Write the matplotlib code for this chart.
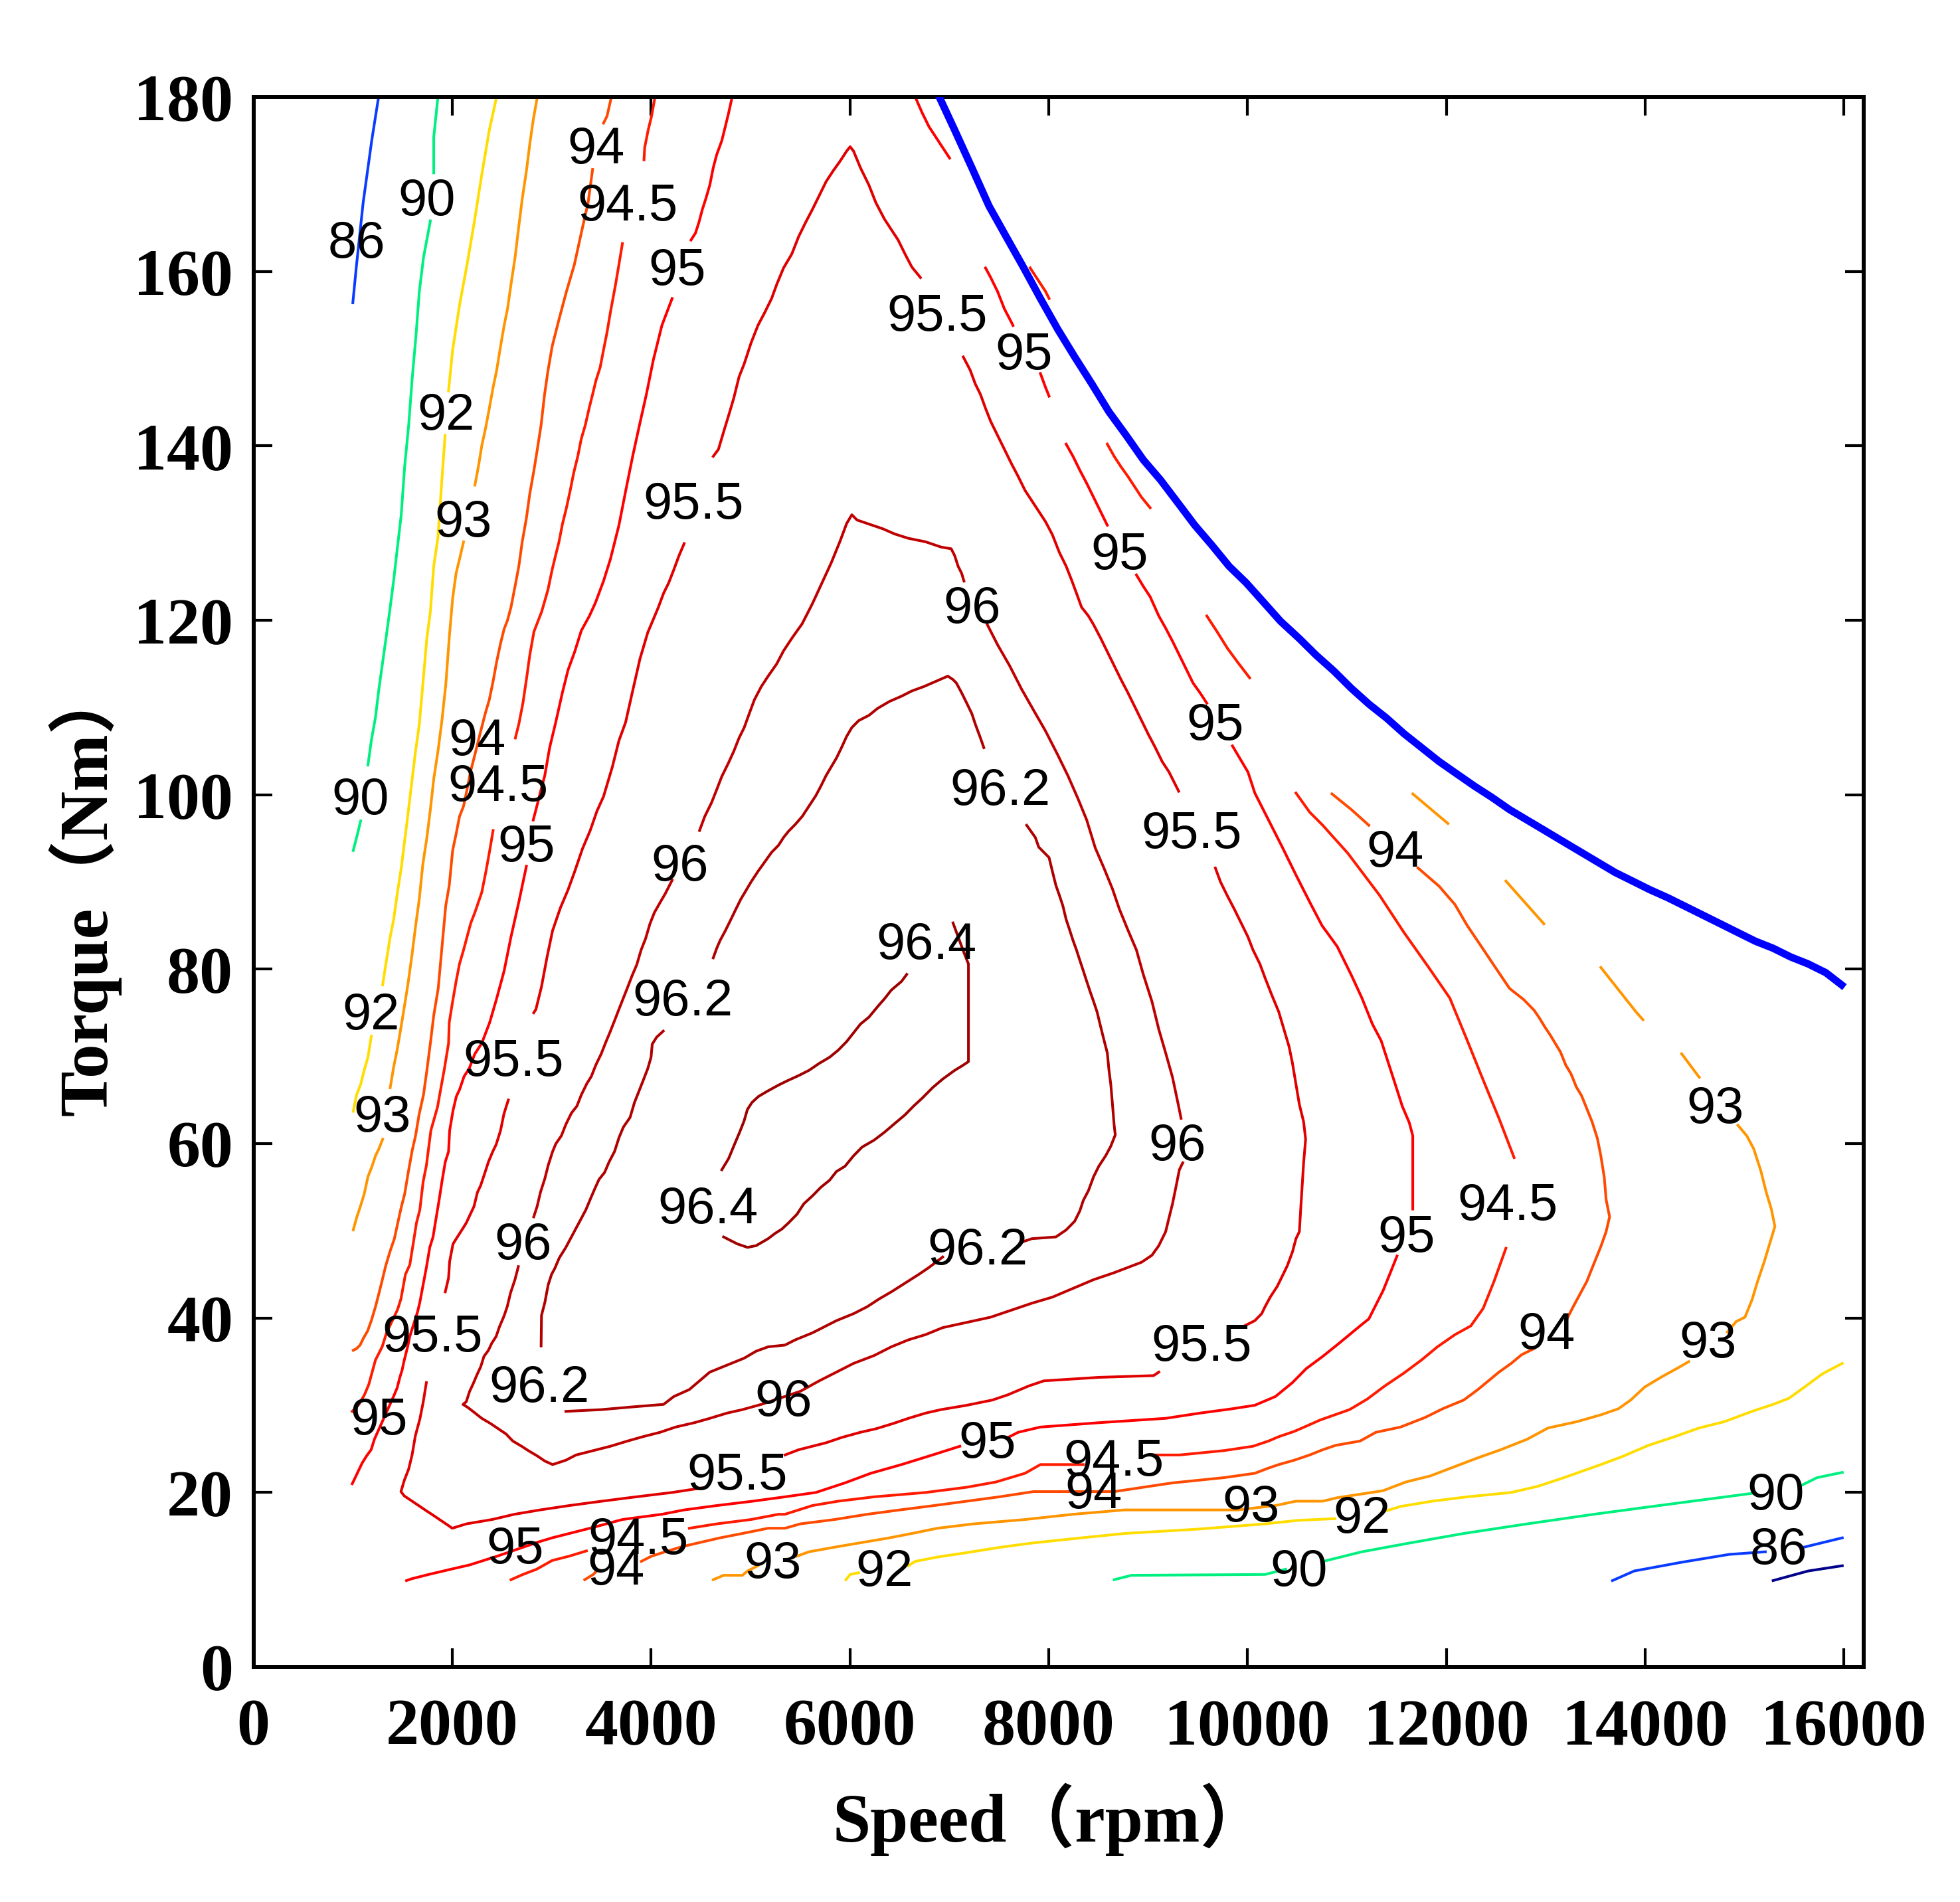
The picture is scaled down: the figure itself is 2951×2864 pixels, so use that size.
import matplotlib
matplotlib.use("Agg")
import matplotlib.pyplot as plt
import matplotlib.transforms as mtransforms

# ---------------------------------------------------------------------------
# Efficiency map of the motor: contour lines.
# Every line is a list of polylines (speed rpm, torque Nm); gaps between the
# polylines are where the original leaves room for a label.
# ---------------------------------------------------------------------------
eff_86 = [
    [(1000, 156.4), (1035, 160.5), (1104, 167.9), (1190, 175.0), (1259, 180.0)],
    [(13672, 9.9), (13891, 11.0), (14368, 12.0), (14846, 12.9), (15210, 13.2)],
    [(15588, 13.7), (15984, 14.8)],
]
eff_low = [
    [(15288, 9.9), (15641, 11.0), (15984, 11.6)],
]
eff_90 = [
    [(1856, 180.0), (1814, 175.4), (1814, 171.3)],
    [(1780, 165.8), (1711, 161.6), (1669, 157.7), (1635, 152.6), (1597, 147.7), (1562, 142.4),
     (1521, 137.6), (1487, 132.1), (1445, 128.0), (1411, 124.6), (1376, 121.5), (1338, 118.3),
     (1300, 115.2), (1262, 112.1), (1228, 108.9), (1186, 106.2), (1152, 103.4)],
    [(1079, 97.0), (1038, 95.1), (1004, 93.6)],
    [(8659, 10.0), (8832, 10.5), (10177, 10.6), (10384, 11.2)],
    [(10762, 12.1), (11151, 13.2), (11628, 14.2), (12176, 15.3), (12813, 16.4), (13484, 17.5),
     (14139, 18.5), (14810, 19.5), (15076, 19.9)],
    [(15553, 20.7), (15730, 21.7), (15984, 22.3)],
]
eff_92 = [
    [(2446, 180.0), (2373, 176.2), (2297, 171.1), (2221, 165.6), (2149, 160.8), (2073, 156.1),
     (2004, 151.0), (1963, 146.3)],
    [(1928, 141.2), (1894, 135.8), (1856, 129.5), (1814, 126.2), (1780, 121.0), (1745, 118.0),
     (1704, 112.6), (1669, 108.1), (1631, 105.0), (1597, 101.8), (1556, 97.9), (1521, 94.7),
     (1487, 91.6), (1445, 88.5), (1411, 85.7), (1376, 83.7), (1338, 81.0), (1300, 78.2)],
    [(1186, 72.3), (1152, 69.9), (1114, 68.4), (1079, 66.8), (1038, 65.6), (1004, 63.7)],
    [(5961, 10.0), (6003, 10.6), (6089, 10.8)],
    [(6589, 11.6), (6658, 12.1), (6882, 12.6), (7176, 13.1), (7503, 13.7), (7831, 14.2),
     (8245, 14.7), (8763, 15.3), (9504, 15.8), (10177, 16.4), (10505, 16.8), (10880, 17.0)],
    [(11398, 17.9), (11540, 18.4), (11858, 19.0), (12211, 19.5), (12653, 20.0), (12919, 20.7),
     (13184, 21.7), (13555, 23.2), (13767, 24.1), (14033, 25.4), (14298, 26.4), (14545, 27.4),
     (14793, 28.1), (15076, 29.3), (15288, 30.1), (15447, 30.8), (15606, 32.1), (15783, 33.6),
     (15984, 34.8)],
]
eff_93 = [
    [(2856, 180.0), (2815, 177.4), (2780, 174.6), (2746, 171.5), (2704, 168.3), (2670, 165.2),
     (2632, 161.6), (2591, 158.5), (2556, 155.7), (2522, 153.8), (2480, 151.0), (2446, 148.6),
     (2411, 146.7), (2373, 144.3), (2335, 142.0), (2297, 140.0), (2263, 137.6), (2228, 135.5)],
    [(2114, 129.0), (2073, 127.0), (2039, 125.4), (2004, 122.5), (1970, 118.0), (1935, 112.6),
     (1894, 108.3), (1859, 105.2), (1814, 101.8), (1780, 98.3), (1745, 95.1), (1704, 92.0),
     (1669, 88.1), (1631, 84.9), (1597, 81.8), (1556, 78.4), (1521, 75.9), (1487, 73.5),
     (1445, 70.7), (1411, 68.8), (1376, 66.4)],
    [(1300, 60.5), (1262, 59.4), (1228, 58.6), (1193, 57.4), (1152, 56.2), (1114, 54.2),
     (1073, 52.7), (1038, 51.5), (1004, 50.1)],
    [(4626, 10.0), (4730, 10.5), (4919, 10.5), (4971, 11.0), (5075, 11.6)],
    [(5468, 12.7), (5589, 13.2), (5882, 13.8), (6141, 14.3), (6399, 14.8), (6624, 15.3),
     (6882, 15.9), (7245, 16.4), (7762, 16.9), (8245, 17.5), (8763, 18.0), (9901, 18.0),
     (10281, 18.5), (10487, 19.0), (10757, 19.0), (10903, 19.4), (11363, 20.2), (11593, 21.2),
     (11840, 21.9), (12070, 22.9), (12300, 23.9), (12547, 24.9), (12813, 26.1), (13025, 27.4),
     (13308, 28.1), (13555, 28.9), (13732, 29.6), (13856, 30.6), (13997, 32.1), (14174, 33.3),
     (14333, 34.3), (14439, 35.0)],
    [(14828, 38.4), (14917, 39.6), (15005, 40.1), (15076, 42.1), (15129, 44.1), (15200, 46.5),
     (15253, 48.5), (15306, 50.5), (15270, 52.5), (15217, 54.5), (15164, 56.9), (15093, 59.4),
     (15023, 60.9), (14934, 62.1)],
    [(14545, 67.6), (14368, 70.3)],
    [(13979, 74.2), (13909, 75.1), (13555, 80.2)],
    [(12982, 85.2), (12600, 90.1)],
    [(12017, 96.7), (11663, 100.1)],
]
eff_94 = [
    [(3601, 180.0), (3557, 177.8), (3522, 177.0)],
    [(3412, 171.7), (3367, 167.9), (3298, 164.4), (3229, 160.8), (3149, 157.7), (3074, 154.5),
     (3005, 151.4), (2963, 148.6), (2929, 145.9), (2894, 142.4), (2856, 139.6), (2822, 137.2),
     (2780, 134.5), (2746, 131.7), (2704, 129.0), (2670, 126.2), (2632, 123.9), (2591, 121.5),
     (2556, 120.0), (2522, 119.0), (2487, 117.4), (2446, 115.2), (2411, 113.0), (2373, 110.9),
     (2332, 109.3), (2280, 107.0), (2228, 104.6), (2183, 102.6), (2149, 100.6), (2114, 98.7),
     (2073, 97.5), (2039, 95.5), (2004, 93.6), (1970, 89.6), (1935, 87.3), (1894, 82.2),
     (1859, 77.8), (1814, 74.7), (1780, 71.5), (1745, 68.4), (1711, 65.6), (1666, 63.3),
     (1631, 60.9), (1597, 59.2), (1556, 56.6), (1521, 54.2), (1487, 52.7), (1452, 50.9),
     (1418, 49.1), (1373, 47.6), (1331, 46.0), (1297, 44.4), (1262, 42.8), (1228, 41.3),
     (1186, 39.7), (1148, 38.5), (1107, 37.7), (1073, 36.9), (1038, 36.5), (1004, 36.3)],
    [(3333, 10.0), (3419, 10.6), (3453, 11.0)],
    [(3902, 12.1), (4005, 12.7), (4143, 13.2), (4316, 13.8), (4505, 14.3), (4695, 14.8),
     (4919, 15.3), (5178, 15.9), (5347, 15.9), (5502, 16.4), (5847, 16.9), (6175, 17.5),
     (6503, 18.0), (6848, 18.5), (7176, 19.0), (7503, 19.5), (7848, 20.1), (8659, 20.1),
     (8952, 20.6), (9246, 21.1), (9763, 21.7), (10074, 22.2), (10212, 22.8), (10315, 23.2),
     (10470, 23.7), (10626, 24.3), (10757, 24.9), (10886, 25.4), (11133, 25.9), (11292, 26.9),
     (11540, 27.5), (11787, 28.6), (11964, 29.6), (12176, 30.6), (12318, 31.8), (12424, 32.8),
     (12530, 33.8), (12653, 34.8), (12759, 35.8), (12883, 36.5)],
    [(13219, 40.0), (13272, 41.2), (13343, 42.7), (13414, 44.2), (13484, 46.2), (13555, 48.2),
     (13608, 49.9), (13643, 51.6), (13608, 53.6), (13590, 56.1), (13555, 58.6), (13520, 60.6),
     (13467, 62.5), (13414, 64.0), (13361, 65.5), (13308, 66.5), (13255, 68.0), (13202, 69.0),
     (13149, 70.5), (13096, 71.5), (13043, 72.5), (12990, 73.4), (12937, 74.4), (12883, 75.3),
     (12780, 76.5), (12636, 77.8), (12494, 80.2), (12353, 82.6), (12211, 85.0), (12088, 87.4),
     (11929, 89.5), (11716, 91.6)],
    [(11221, 96.5), (11045, 98.3), (10850, 100.1)],
]
eff_945 = [
    [(4040, 180.0), (4005, 177.8), (3971, 176.2), (3936, 174.2), (3929, 172.8)],
    [(3712, 163.2), (3677, 160.8), (3643, 158.5), (3591, 155.3), (3557, 153.0), (3522, 151.0),
     (3488, 149.0), (3446, 147.5), (3412, 145.9), (3377, 144.3), (3339, 142.4), (3298, 140.8),
     (3263, 138.8), (3222, 136.9), (3187, 134.9), (3149, 132.9), (3108, 131.0), (3074, 129.0),
     (3039, 127.4), (3005, 125.8), (2963, 123.5), (2900, 121.0), (2822, 118.7), (2780, 116.0),
     (2746, 113.2), (2711, 110.5), (2670, 108.1), (2635, 106.5)],
    [(2411, 95.9), (2377, 93.6), (2339, 91.2), (2297, 88.8), (2228, 86.5), (2187, 85.3),
     (2149, 83.7), (2114, 82.2), (2073, 80.6), (2039, 78.6), (2004, 76.3), (1970, 73.9),
     (1963, 71.5), (1920, 68.5), (1880, 66.0), (1852, 64.2), (1785, 61.5), (1740, 57.5),
     (1707, 55.6), (1674, 52.4), (1640, 50.9), (1607, 48.5), (1573, 46.1), (1529, 45.0),
     (1484, 42.2), (1451, 41.0), (1339, 38.3), (1295, 36.7), (1228, 35.2), (1161, 32.4),
     (1117, 31.2), (1061, 30.1), (994, 29.3)],
    [(2591, 10.0), (2711, 10.6), (2849, 11.2), (3005, 12.2), (3177, 12.7), (3350, 13.3)],
    [(4385, 15.9), (4661, 16.4), (5006, 16.9), (5282, 17.5), (5347, 17.5), (5623, 18.5),
     (5882, 19.0), (6244, 19.5), (6762, 20.0), (7176, 20.6), (7469, 21.2), (7762, 22.2),
     (7917, 23.2), (8349, 23.2)],
    [(9056, 24.3), (9315, 24.3), (9763, 24.8), (10056, 25.3), (10212, 25.9), (10315, 26.4),
     (10470, 27.0), (10591, 27.6), (10729, 28.3), (11027, 29.5), (11204, 30.7), (11380, 32.2),
     (11575, 33.7), (11752, 35.2), (11911, 36.7), (12088, 38.1), (12247, 39.1), (12371, 41.1),
     (12477, 44.1), (12600, 48.0)],
    [(12682, 58.4), (12530, 62.9), (12371, 67.3), (12212, 71.8), (12035, 76.7), (11823, 80.2),
     (11575, 84.2), (11327, 88.5), (11009, 93.3), (10757, 96.5), (10626, 98.0), (10557, 99.1),
     (10488, 100.2)],
    [(10022, 113.4), (9901, 115.2), (9798, 116.8), (9694, 118.7), (9591, 120.5)],
    [(9021, 132.9), (8935, 134.1), (8866, 135.3), (8797, 136.5), (8728, 137.6), (8659, 138.8),
     (8590, 140.2)],
    [(8004, 156.9), (7969, 157.7), (7900, 158.9), (7814, 160.4)],
]
eff_95 = [
    [(4816, 180.0), (4781, 178.2), (4747, 176.6), (4712, 175.0), (4661, 173.4), (4626, 171.9),
     (4591, 169.9), (4550, 168.3), (4516, 167.1), (4481, 165.6), (4447, 164.4), (4402, 163.6)],
    [(4212, 156.9), (4109, 153.8), (4022, 149.8), (3953, 145.9), (3884, 142.4), (3815, 138.8),
     (3746, 134.9), (3677, 130.9), (3591, 127.0), (3522, 124.5), (3440, 122.0), (3380, 120.5),
     (3298, 118.8), (3232, 116.4), (3165, 114.3), (3108, 111.7), (3039, 108.2), (2980, 105.4),
     (2931, 102.2), (2894, 100.6), (2856, 98.9), (2815, 97.1)],
    [(2746, 91.8), (2670, 87.7), (2591, 83.7), (2522, 79.8), (2446, 76.6), (2377, 73.9),
     (2297, 71.5), (2228, 70.3), (2170, 68.6), (2119, 67.7), (2074, 66.2), (2041, 65.4),
     (2008, 63.8), (1974, 61.5), (1963, 59.1), (1930, 57.9), (1896, 55.6), (1869, 53.6),
     (1834, 51.2), (1807, 49.3), (1774, 48.1), (1740, 45.8), (1707, 43.8), (1674, 41.8),
     (1651, 40.7), (1573, 37.9), (1551, 36.7), (1518, 35.2), (1495, 34.0), (1473, 33.2),
     (1446, 32.0), (1417, 31.2), (1217, 26.1), (1184, 24.9), (1139, 24.2), (1095, 23.4),
     (1061, 22.6), (1028, 21.8), (994, 21.0)],
    [(1540, 9.9), (1590, 10.1), (1763, 10.6), (1987, 11.2), (2177, 11.7), (2315, 12.2),
     (2453, 12.7), (2860, 14.3), (3005, 14.8), (3212, 15.4), (3419, 16.0), (3712, 16.9),
     (4109, 17.5), (4333, 18.0), (4661, 18.5), (5023, 19.0), (5347, 19.5), (5658, 20.0),
     (5951, 21.1), (6210, 22.2), (6520, 23.2), (6831, 24.3), (7107, 25.3)],
    [(7590, 26.3), (7693, 26.9), (7917, 27.5), (8504, 28.0), (9177, 28.5), (9522, 29.1),
     (9849, 29.6), (10074, 30.0), (10281, 31.0), (10453, 32.6), (10591, 34.2), (10757, 35.6),
     (10921, 37.1), (11027, 38.1), (11133, 39.1), (11221, 39.9), (11274, 41.1), (11363, 43.1),
     (11434, 45.1), (11504, 47.1)],
    [(11663, 52.5), (11663, 60.9), (11628, 62.4), (11557, 64.3), (11487, 66.8), (11416, 69.3),
     (11345, 71.8), (11257, 73.7), (11151, 76.7), (11050, 79.2), (10903, 82.6), (10750, 85.0),
     (10626, 87.7), (10488, 90.8), (10350, 94.0), (10212, 97.1), (10074, 100.2), (10005, 102.6),
     (9849, 105.6)],
    [(9591, 110.5), (9522, 111.7), (9453, 112.8), (9384, 114.4), (9315, 116.0), (9246, 117.6),
     (9177, 119.1), (9108, 120.5), (9021, 122.7), (8952, 123.9), (8883, 125.2)],
    [(8590, 130.9), (8521, 132.5), (8452, 134.1), (8383, 135.7), (8314, 137.2), (8245, 138.8),
     (8176, 140.2)],
    [(8004, 145.7), (7969, 146.7), (7917, 148.3)],
    [(7641, 153.8), (7624, 154.2), (7555, 155.7), (7486, 157.7), (7417, 159.3), (7365, 160.4)],
    [(7003, 173.0), (6934, 174.2), (6865, 175.4), (6796, 176.6), (6727, 178.2), (6658, 180.0)],
]
eff_955 = [
    [(6710, 159.3), (6624, 160.5), (6555, 162.0), (6486, 163.6), (6417, 164.8), (6348, 166.0),
     (6261, 167.9), (6192, 169.9), (6106, 171.9), (6037, 173.8), (6003, 174.3), (5968, 173.8),
     (5899, 172.6), (5830, 171.5), (5761, 170.3), (5692, 168.7), (5623, 167.1), (5554, 165.6),
     (5485, 164.0), (5416, 162.0), (5333, 160.4), (5264, 158.5), (5213, 156.9), (5144, 155.3),
     (5075, 153.8), (5006, 151.8), (4937, 149.4), (4885, 147.9), (4833, 145.5), (4781, 143.5),
     (4730, 141.6), (4678, 139.6), (4626, 138.8)],
    [(4333, 128.8), (4281, 127.4), (4229, 125.8), (4178, 124.3), (4126, 123.1), (4074, 121.5),
     (4030, 120.3), (3967, 118.6), (3889, 115.6), (3811, 111.7), (3744, 108.3), (3677, 106.2),
     (3611, 103.2), (3522, 99.8), (3455, 98.1), (3388, 95.9), (3310, 93.8), (3232, 91.2),
     (3165, 89.1), (3087, 87.0), (3009, 84.4), (2954, 81.4), (2898, 78.0), (2842, 75.4),
     (2820, 75.0)],
    [(2564, 65.0), (2520, 63.4), (2486, 61.5), (2442, 59.9), (2408, 59.1), (2364, 57.9),
     (2330, 56.7), (2286, 55.2), (2253, 54.4), (2219, 52.8), (2186, 52.0), (2141, 50.9),
     (2097, 50.1), (2052, 49.3), (2008, 48.5), (1974, 46.5), (1963, 44.6), (1930, 43.0)],
    [(1740, 32.6), (1707, 30.3), (1674, 28.4), (1629, 26.5), (1596, 24.3), (1562, 22.7),
     (1518, 21.4), (1484, 20.1), (1518, 19.6), (1584, 19.1), (1662, 18.5), (1740, 17.9),
     (1807, 17.4), (1885, 16.8), (1963, 16.2), (2000, 15.9), (2142, 16.4), (2401, 16.9),
     (2625, 17.5), (2884, 18.0), (3177, 18.5), (3505, 19.0), (3850, 19.5), (4212, 20.0),
     (4557, 20.6)],
    [(5347, 24.3), (5485, 24.9), (5623, 25.3), (5761, 25.7), (5916, 26.3), (6106, 26.9),
     (6261, 27.3), (6434, 27.9), (6589, 28.5), (6762, 29.1), (6917, 29.5), (7176, 30.0),
     (7434, 30.6), (7590, 31.2), (7797, 32.2), (7952, 32.8), (8504, 33.2), (9056, 33.4),
     (9108, 33.8)],
    [(9970, 39.1), (10074, 39.7), (10143, 40.5), (10177, 41.3), (10229, 42.4), (10298, 43.6),
     (10350, 44.8), (10401, 46.0), (10453, 47.6), (10488, 49.1), (10522, 49.9), (10539, 53.1),
     (10565, 57.8), (10585, 60.5), (10565, 62.5), (10522, 64.5), (10488, 66.8), (10453, 69.2),
     (10419, 71.1), (10367, 73.1), (10315, 75.1), (10246, 77.0), (10177, 79.0), (10125, 80.6),
     (10056, 82.2), (10005, 83.7), (9936, 85.3), (9867, 86.9), (9798, 88.4), (9729, 90.0),
     (9677, 91.6)],
    [(9308, 100.4), (9211, 102.6), (9142, 103.8), (9073, 105.4), (9004, 106.9), (8935, 108.5),
     (8866, 110.1), (8797, 111.7), (8728, 113.2), (8659, 114.8), (8590, 116.4), (8521, 118.0),
     (8452, 119.5), (8400, 120.5), (8331, 121.5), (8280, 123.1), (8228, 124.7), (8176, 126.2),
     (8107, 127.8), (8038, 129.8), (7969, 131.3), (7900, 132.5), (7831, 133.7), (7762, 134.9),
     (7693, 136.5), (7624, 138.0), (7555, 139.6), (7486, 141.2), (7417, 142.8), (7365, 144.3),
     (7314, 145.9), (7262, 147.1), (7210, 148.7), (7141, 150.2)],
]
eff_96 = [
    [(7148, 124.5), (7124, 125.4), (7089, 126.2), (7055, 127.4), (7020, 128.2), (6917, 128.4),
     (6762, 129.0), (6589, 129.4), (6451, 129.9), (6330, 130.5), (6175, 131.1), (6072, 131.5),
     (6020, 132.1), (5968, 131.1), (5899, 129.0), (5813, 126.6), (5720, 124.3), (5623, 121.9),
     (5520, 119.6), (5420, 118.0), (5333, 116.5), (5264, 115.0), (5178, 113.6), (5109, 112.4),
     (5040, 110.9), (4988, 109.3), (4937, 107.7), (4885, 106.5), (4833, 105.0), (4781, 103.7),
     (4712, 102.1), (4661, 100.6), (4609, 99.1), (4540, 97.5), (4488, 95.9)],
    [(4212, 90.2), (4145, 88.7), (4089, 87.6), (4034, 86.5), (3989, 85.2), (3945, 83.5),
     (3900, 82.2), (3856, 80.5), (3811, 79.3), (3767, 78.0), (3722, 76.7), (3677, 75.4),
     (3633, 74.1), (3588, 72.8), (3544, 71.6), (3499, 70.3), (3444, 69.0), (3399, 67.7),
     (3355, 66.9), (3299, 65.6), (3254, 64.3), (3199, 63.5), (3143, 62.2), (3098, 60.9),
     (3043, 60.0), (3010, 59.1), (2965, 57.5), (2932, 56.0), (2887, 54.4), (2854, 52.8),
     (2820, 51.6)],
    [(2665, 45.9), (2631, 44.4), (2587, 42.9), (2553, 41.3), (2520, 40.2), (2475, 39.0),
     (2442, 37.9), (2397, 37.1), (2364, 36.3), (2319, 35.6), (2286, 34.4), (2253, 33.6),
     (2208, 32.4), (2175, 31.6), (2141, 30.4), (2108, 30.1), (2163, 29.7), (2230, 29.1),
     (2297, 28.5), (2386, 27.9), (2464, 27.3), (2542, 26.7), (2609, 25.9), (2698, 25.3),
     (2765, 24.8), (2854, 24.2), (2932, 23.6), (3010, 23.2), (3143, 23.7), (3246, 24.3),
     (3453, 24.9), (3591, 25.3), (3764, 25.9), (3919, 26.4), (4091, 26.9), (4247, 27.5),
     (4436, 28.0), (4591, 28.5), (4764, 29.1), (4919, 29.5), (5109, 30.1), (5502, 31.6),
     (5692, 32.8), (5865, 33.8), (6037, 34.8), (6244, 35.7), (6417, 36.7), (6589, 37.5),
     (6762, 38.1), (6934, 38.9), (7176, 39.5), (7417, 40.1), (7624, 40.9), (7831, 41.7),
     (8038, 42.4), (8245, 43.4), (8452, 44.4), (8659, 45.2), (8797, 45.8), (8935, 46.4),
     (9039, 47.2), (9108, 48.3), (9177, 49.9), (9211, 51.5), (9246, 53.1), (9280, 55.0),
     (9315, 57.0), (9349, 57.8)],
    [(9332, 62.9), (9298, 64.8), (9246, 67.6), (9177, 70.4), (9108, 73.1), (9039, 76.3),
     (8952, 79.4), (8883, 82.2), (8797, 84.5), (8711, 86.9), (8642, 89.2), (8556, 91.6),
     (8469, 93.9), (8383, 97.1), (8297, 99.5), (8193, 102.2), (8090, 104.6), (7969, 107.3),
     (7848, 109.7), (7728, 112.1), (7607, 114.8), (7486, 117.2), (7383, 119.5)],
]
eff_962 = [
    [(7348, 105.4), (7314, 106.5), (7262, 108.1), (7227, 109.3), (7176, 110.5), (7124, 111.7),
     (7072, 112.8), (7038, 113.2), (6986, 113.6), (6865, 113.0), (6744, 112.4), (6624, 111.9),
     (6520, 111.3), (6399, 110.7), (6279, 109.9), (6192, 109.1), (6089, 108.5), (6020, 107.7),
     (5968, 106.7), (5916, 105.4), (5865, 104.2), (5813, 103.2), (5761, 102.2), (5709, 101.0),
     (5658, 99.9), (5589, 98.7), (5520, 97.5), (5451, 96.6), (5382, 95.8), (5333, 95.1),
     (5282, 94.2), (5213, 93.4), (5144, 92.3), (5075, 91.2), (5006, 90.0), (4954, 89.0),
     (4902, 88.0), (4850, 86.8), (4799, 85.6), (4747, 84.4), (4695, 83.3), (4661, 82.4),
     (4626, 81.3)],
    [(4123, 72.9), (4056, 72.2), (4012, 71.4), (4000, 69.9), (3967, 68.6), (3923, 67.3),
     (3878, 66.0), (3833, 64.7), (3789, 63.0), (3722, 61.9), (3678, 60.7), (3633, 59.1),
     (3578, 57.9), (3533, 56.7), (3477, 55.9), (3433, 54.8), (3388, 53.6), (3344, 52.4),
     (3288, 51.2), (3255, 50.5), (3199, 49.3), (3143, 48.1), (3077, 46.9), (3032, 45.7),
     (2999, 45.0), (2965, 43.8), (2932, 41.8), (2898, 40.3), (2894, 36.8)],
    [(3143, 29.3), (3500, 29.5), (3800, 29.8), (4126, 30.1), (4229, 31.0), (4385, 31.8),
     (4488, 32.8), (4591, 33.8), (4764, 34.6), (4937, 35.4), (5057, 36.2), (5178, 36.7),
     (5347, 36.9), (5451, 37.5), (5623, 38.3), (5727, 38.9), (5865, 39.7), (6037, 40.5),
     (6175, 41.3), (6296, 42.2), (6417, 43.0), (6555, 44.0), (6693, 45.0), (6796, 45.8),
     (6934, 47.0)],
    [(7728, 48.7), (7831, 49.1), (8073, 49.3), (8176, 50.1), (8262, 51.1), (8314, 52.3),
     (8349, 53.5), (8400, 54.6), (8452, 56.2), (8504, 57.4), (8573, 58.6), (8625, 59.7),
     (8670, 61.0), (8659, 62.1), (8642, 64.5), (8625, 66.8), (8607, 68.4), (8590, 70.4),
     (8556, 71.9), (8521, 73.5), (8487, 75.1), (8452, 76.3), (8418, 77.4), (8383, 78.6),
     (8349, 79.8), (8314, 81.0), (8280, 82.2), (8245, 83.3), (8211, 84.5), (8176, 85.7),
     (8142, 87.3), (8107, 88.5), (8073, 89.6), (8038, 91.2), (8004, 92.8), (7900, 94.0),
     (7866, 95.1), (7779, 96.5)],
]
eff_964 = [
    [(4712, 57.0), (4781, 58.3), (4850, 60.2), (4891, 61.3), (4936, 62.6), (4969, 63.9),
     (5014, 64.7), (5080, 65.4), (5169, 66.0), (5281, 66.7), (5370, 67.2), (5485, 67.8),
     (5589, 68.4), (5692, 69.2), (5796, 69.9), (5882, 70.7), (5968, 71.7), (6037, 72.7),
     (6106, 73.7), (6192, 74.5), (6279, 75.7), (6348, 76.6), (6417, 77.6), (6520, 78.6),
     (6572, 79.4)],
    [(7038, 85.3), (7141, 82.1), (7193, 80.6), (7193, 69.4), (7141, 69.0), (7055, 68.4),
     (6934, 67.4), (6831, 66.4), (6727, 65.2), (6641, 64.3), (6555, 63.3), (6451, 62.3),
     (6348, 61.3), (6244, 60.4), (6123, 59.6), (6037, 58.6), (5951, 57.4), (5865, 56.8),
     (5796, 55.8), (5709, 55.0), (5623, 54.0), (5537, 53.1), (5468, 51.9), (5382, 50.9),
     (5316, 50.2), (5247, 49.7), (5178, 49.1), (5057, 48.3), (4971, 48.1), (4868, 48.5),
     (4764, 49.1), (4730, 49.3)],
]

# maximum torque envelope (thick blue curve)
max_speed = [6900, 7055, 7227, 7400, 7572, 7745, 7917, 8090, 8262, 8435, 8607, 8780, 8952,
             9125, 9298, 9470, 9643, 9815, 9987, 10160, 10332, 10522, 10691, 10868, 11045,
             11221, 11398, 11575, 11752, 11929, 12105, 12282, 12459, 12636, 12813, 12990,
             13166, 13343, 13520, 13697, 13874, 14050, 14227, 14404, 14581, 14758, 14934,
             15111, 15288, 15465, 15641, 15818, 15977]
max_torque = [180.0, 176.2, 171.9, 167.5, 164.0, 160.5, 156.9, 153.4, 150.2, 147.1, 143.9,
              141.2, 138.4, 136.1, 133.5, 130.9, 128.6, 126.2, 124.3, 122.1, 119.9, 117.9,
              116.0, 114.2, 112.2, 110.4, 108.8, 107.0, 105.4, 103.8, 102.4, 101.0, 99.7,
              98.3, 97.1, 95.9, 94.7, 93.5, 92.3, 91.1, 90.1, 89.1, 88.2, 87.2, 86.2, 85.2,
              84.2, 83.2, 82.4, 81.4, 80.6, 79.6, 78.2]

# inline contour labels (text, speed, torque of the label centre)
label_text = ["86", "90", "94", "94.5", "95", "92", "93", "95.5", "95.5", "95", "95", "96",
              "94", "94.5", "95", "90", "96", "96.2", "92", "95.5", "93", "96.4", "96.2", "95",
              "95.5", "96", "94", "93", "94.5", "95", "94", "93", "92", "90", "86", "96.4",
              "96", "95.5", "96.2", "95", "96", "96.2", "95.5", "95.5", "95", "94.5", "94",
              "93", "90", "92", "93", "95", "94.5", "94"]
label_speed = [1038, 1745, 3450, 3764, 4264, 1935, 2114, 4426, 6882, 7752, 8711, 7227,
               2252, 2460, 2746, 1079, 4288, 4316, 1183, 2615, 1297, 6768, 7510, 9677,
               9435, 9297, 11487, 14704, 12618, 11600, 13007, 14634, 11151, 15313, 15344, 4574,
               2711, 1804, 2874, 1262, 5331, 7286, 9539, 4868, 7383, 8659, 8452,
               10039, 10515, 6344, 5222, 2632, 3874, 3650]
label_torque = [163.7, 168.6, 174.5, 168.0, 160.6, 144.0, 131.7, 133.8, 155.3, 150.9, 128.0,
                121.8, 106.7, 101.4, 94.5, 99.9, 92.3, 76.8, 75.2, 69.9, 63.5, 83.3, 101.0,
                108.4, 96.0, 60.2, 93.9, 64.5, 53.4, 49.7, 38.6, 37.6, 17.5, 20.2, 13.9, 53.0,
                48.9, 38.3, 32.5, 28.8, 30.9, 48.3, 37.2, 22.5, 26.1, 24.1, 20.3,
                18.8, 11.4, 11.4, 12.3, 14.0, 15.1, 11.6]

x_ticks = [0, 2000, 4000, 6000, 8000, 10000, 12000, 14000, 16000]
y_ticks = [0, 20, 40, 60, 80, 100, 120, 140, 160, 180]

# (line data, colour), drawn outer to inner
LEVELS = [
    (eff_low, "#00008b"),
    (eff_86, "#0a3cff"),
    (eff_90, "#00f080"),
    (eff_92, "#ffdd00"),
    (eff_93, "#ff9500"),
    (eff_94, "#ff4a00"),
    (eff_945, "#ff1a00"),
    (eff_95, "#ff0000"),
    (eff_955, "#e00000"),
    (eff_96, "#c00000"),
    (eff_962, "#b00000"),
    (eff_964, "#a00000"),
]

plt.rcParams["font.family"] = ["Liberation Serif", "Noto Sans CJK SC"]
plt.rcParams["font.weight"] = "bold"

fig = plt.figure(figsize=(29.51, 28.64), dpi=100)
ax = fig.add_axes([0.1293, 0.1236, 0.8216, 0.8254])

for segs, col in LEVELS:
    for seg in segs:
        xs = [p[0] for p in seg]
        ys = [p[1] for p in seg]
        ax.plot(xs, ys, color=col, lw=2.9, zorder=2)

ax.plot(max_speed, max_torque, color="#0000ff", lw=8.0, zorder=3)

# labels: baseline shifted down by half the digit height so the digits sit centred
LABEL_SIZE = 56
lab_tr = mtransforms.offset_copy(ax.transData, fig=fig, y=-0.36 * LABEL_SIZE,
                                 units="points")
for s, x, y in zip(label_text, label_speed, label_torque):
    ax.text(x, y, s, transform=lab_tr, ha="center", va="baseline", fontsize=LABEL_SIZE,
            family=["Liberation Sans"], weight="normal", color="black", zorder=5)

ax.set_xlim(0, 16200)
ax.set_ylim(0, 180)
ax.set_xticks(x_ticks)
ax.set_yticks(y_ticks)
ax.tick_params(direction="in", length=20, width=3, top=True, right=True,
               labelsize=72)
ax.tick_params(axis="x", pad=34)
ax.tick_params(axis="y", pad=22)
for sp in ax.spines.values():
    sp.set_linewidth(4.3)

ax.set_xlabel("Speed（rpm）", fontsize=74, fontweight="bold")
ax.set_ylabel("Torque（Nm）", fontsize=74, fontweight="bold")
ax.xaxis.set_label_coords(0.495, -0.074)
ax.yaxis.set_label_coords(-0.082, 0.495)

fig.savefig("out.png", dpi=100)
